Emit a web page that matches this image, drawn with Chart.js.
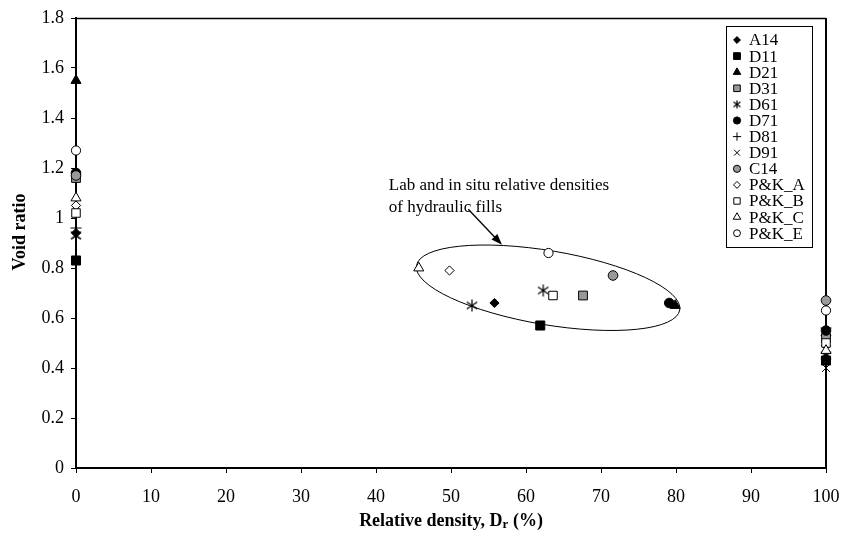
<!DOCTYPE html>
<html>
<head>
<meta charset="utf-8">
<script src="https://cdn.jsdelivr.net/npm/chart.js@4.4.1/dist/chart.umd.min.js"></script>
<style>
  html, body { margin: 0; padding: 0; background: #fff; }
  #wrap { width: 844px; height: 534px; }
</style>
</head>
<body>
<div id="wrap"><canvas id="voidChart" width="844" height="534"></canvas></div>
<script>
// series and values
const seriesNames = ['A14', 'D11', 'D21', 'D31', 'D61', 'D71', 'D81', 'D91', 'C14', 'P&K_A', 'P&K_B', 'P&K_C', 'P&K_E'];
const eMaxAtDr0 = [0.94, 0.83, 1.55, 1.16, 0.93, 1.18, 0.96, 0.93, 1.17, 1.05, 1.02, 1.08, 1.27];
const eMinAtDr100 = [0.44, 0.43, 0.54, 0.52, 0.45, 0.55, 0.56, 0.40, 0.67, 0.49, 0.50, 0.47, 0.63];
const inSituDr = [[55.8], [61.9], [79.9], [67.6], [52.8, 62.3], [79.1], [], [], [71.6], [49.8], [63.6], [45.7], [63.0]];
const inSituE = [[0.66], [0.57], [0.65], [0.69], [0.65, 0.71], [0.66], [], [], [0.77], [0.79], [0.69], [0.80], [0.86]];
const xTicks = [0, 10, 20, 30, 40, 50, 60, 70, 80, 90, 100];
const yTicks = [0, 0.2, 0.4, 0.6, 0.8, 1, 1.2, 1.4, 1.6, 1.8];

// annotation (data units)
const noteLines = ['Lab and in situ relative densities', 'of hydraulic fills'];
const noteAt = { x: 41.7, y: 1.128 };
const arrowFrom = { x: 52.3, y: 1.035 };
const arrowTo = { x: 56.8, y: 0.893 };
const ellipseEnds = [{ x: 45.4, y: 0.81 }, { x: 80.5, y: 0.632 }];

const SERIF = '"Liberation Serif", "Times New Roman", serif';

function makeAsterisk(size) {
    const c = document.createElement('canvas');
    c.width = size; c.height = size;
    const g = c.getContext('2d');
    const m = size / 2, r = size / 2 - 1;
    g.strokeStyle = '#000';
    g.lineWidth = 1.2;
    g.beginPath();
    g.moveTo(m, m - r); g.lineTo(m, m + r);
    g.moveTo(m - r * 0.87, m - r * 0.6); g.lineTo(m + r * 0.87, m + r * 0.6);
    g.moveTo(m - r * 0.87, m + r * 0.6); g.lineTo(m + r * 0.87, m - r * 0.6);
    g.stroke();
    return c;
}

const styles = [
    { pointStyle: 'rectRot', fill: '#000', radius: 4.6 },
    { pointStyle: 'rect', fill: '#000', radius: 6.4 },
    { pointStyle: 'triangle', fill: '#000', radius: 5.8 },
    { pointStyle: 'rect', fill: '#999', radius: 6.2 },
    { pointStyle: makeAsterisk(14), legendStyle: makeAsterisk(10), fill: '#000', radius: 6 },
    { pointStyle: 'circle', fill: '#000', radius: 4.8 },
    { pointStyle: 'cross', fill: '#000', radius: 5.5 },
    { pointStyle: 'crossRot', fill: '#000', radius: 5.5 },
    { pointStyle: 'circle', fill: '#999', radius: 4.8 },
    { pointStyle: 'rectRot', fill: '#fff', radius: 4.6 },
    { pointStyle: 'rect', fill: '#fff', radius: 6 },
    { pointStyle: 'triangle', fill: '#fff', radius: 5.8 },
    { pointStyle: 'circle', fill: '#fff', radius: 4.6 }
];

const datasets = seriesNames.map((name, i) => {
    const pts = [{ x: 0, y: eMaxAtDr0[i] }];
    inSituDr[i].forEach((dr, k) => pts.push({ x: dr, y: inSituE[i][k] }));
    pts.push({ x: 100, y: eMinAtDr100[i] });
    return {
        label: name,
        data: pts,
        pointStyle: styles[i].pointStyle,
        pointRadius: styles[i].radius,
        pointHoverRadius: styles[i].radius,
        backgroundColor: styles[i].fill,
        borderColor: '#000',
        borderWidth: 1,
        showLine: false,
        clip: false,
        order: -i
    };
});

// frame, ellipse, arrow, note, axis titles and legend
const decorations = {
    id: 'decorations',
    beforeDatasetsDraw(chart) {
        const { ctx, chartArea: a, scales: { x, y } } = chart;
        ctx.save();
        ctx.strokeStyle = '#000';
        // top and right frame
        ctx.lineWidth = 1.5;
        ctx.beginPath();
        ctx.moveTo(a.left, a.top + 0.5);
        ctx.lineTo(a.right, a.top + 0.5);
        ctx.stroke();
        ctx.lineWidth = 2;
        ctx.beginPath();
        ctx.moveTo(a.right, a.top);
        ctx.lineTo(a.right, a.bottom);
        ctx.stroke();

        // ellipse round the in situ points
        const p1 = { x: x.getPixelForValue(ellipseEnds[0].x), y: y.getPixelForValue(ellipseEnds[0].y) };
        const p2 = { x: x.getPixelForValue(ellipseEnds[1].x), y: y.getPixelForValue(ellipseEnds[1].y) };
        const cx = (p1.x + p2.x) / 2, cy = (p1.y + p2.y) / 2;
        const semiMajor = Math.hypot(p2.x - p1.x, p2.y - p1.y) / 2;
        const rot = Math.atan2(p2.y - p1.y, p2.x - p1.x);
        ctx.lineWidth = 1;
        ctx.beginPath();
        ctx.ellipse(cx, cy, semiMajor, 37, rot, 0, Math.PI * 2);
        ctx.stroke();

        // arrow
        const ax0 = x.getPixelForValue(arrowFrom.x), ay0 = y.getPixelForValue(arrowFrom.y);
        const ax1 = x.getPixelForValue(arrowTo.x), ay1 = y.getPixelForValue(arrowTo.y);
        const ang = Math.atan2(ay1 - ay0, ax1 - ax0);
        ctx.lineWidth = 1.3;
        ctx.beginPath();
        ctx.moveTo(ax0, ay0);
        ctx.lineTo(ax1 - 8 * Math.cos(ang), ay1 - 8 * Math.sin(ang));
        ctx.stroke();
        ctx.fillStyle = '#000';
        ctx.beginPath();
        ctx.moveTo(ax1, ay1);
        ctx.lineTo(ax1 - 11 * Math.cos(ang) + 4 * Math.sin(ang), ay1 - 11 * Math.sin(ang) - 4 * Math.cos(ang));
        ctx.lineTo(ax1 - 11 * Math.cos(ang) - 4 * Math.sin(ang), ay1 - 11 * Math.sin(ang) + 4 * Math.cos(ang));
        ctx.closePath();
        ctx.fill();

        // note text
        ctx.font = '17px ' + SERIF;
        ctx.textAlign = 'left';
        ctx.textBaseline = 'middle';
        const nx = x.getPixelForValue(noteAt.x), ny = y.getPixelForValue(noteAt.y);
        noteLines.forEach((t, i) => ctx.fillText(t, nx, ny + i * 22));
        ctx.restore();
    },
    afterDraw(chart) {
        const { ctx, chartArea: a } = chart;
        ctx.save();
        ctx.fillStyle = '#000';

        // y axis title
        ctx.save();
        ctx.translate(20, 232);
        ctx.rotate(-Math.PI / 2);
        ctx.font = 'bold 18px ' + SERIF;
        ctx.textAlign = 'center';
        ctx.textBaseline = 'middle';
        ctx.fillText('Void ratio', 0, 0);
        ctx.restore();

        // x axis title with subscript r
        const parts = [
            { t: 'Relative density, D', f: 'bold 18px ' + SERIF, dy: 0 },
            { t: 'r', f: 'bold 13px ' + SERIF, dy: 4 },
            { t: ' (%)', f: 'bold 18px ' + SERIF, dy: 0 }
        ];
        let total = 0;
        parts.forEach(p => { ctx.font = p.f; p.w = ctx.measureText(p.t).width; total += p.w; });
        let px = (a.left + a.right) / 2 - total / 2;
        const py = 521;
        ctx.textBaseline = 'middle';
        ctx.textAlign = 'left';
        parts.forEach(p => { ctx.font = p.f; ctx.fillText(p.t, px, py + p.dy); px += p.w; });

        // legend box
        const lx = 726, ly = 26, lw = 86, lh = 221;
        ctx.fillStyle = '#fff';
        ctx.fillRect(lx, ly, lw, lh);
        ctx.strokeStyle = '#000';
        ctx.lineWidth = 1;
        ctx.strokeRect(lx + 0.5, ly + 0.5, lw, lh);
        ctx.font = '17px ' + SERIF;
        chart.data.datasets.forEach((ds, i) => {
            const rowY = 40 + i * 16.1;
            const st = styles[i];
            ctx.fillStyle = st.fill;
            ctx.strokeStyle = '#000';
            ctx.lineWidth = 1;
            Chart.helpers.drawPoint(ctx, {
                pointStyle: st.legendStyle || st.pointStyle,
                radius: st.radius * 0.75,
                rotation: 0,
                borderWidth: 1
            }, 737, rowY);
            ctx.fillStyle = '#000';
            ctx.fillText(ds.label, 749, rowY + 1);
        });
        ctx.restore();
    }
};

new Chart(document.getElementById('voidChart'), {
    type: 'scatter',
    data: { datasets },
    options: {
        responsive: false,
        animation: false,
        events: [],
        layout: { padding: { left: 6, right: 18, top: 18, bottom: 0 } },
        plugins: {
            legend: { display: false },
            tooltip: { enabled: false }
        },
        scales: {
            x: {
                type: 'linear',
                min: 0,
                max: 100,
                afterBuildTicks: s => { s.ticks = xTicks.map(v => ({ value: v })); },
                afterFit: s => { s.height = 66; s.paddingLeft = 0; s.paddingRight = 0; },
                grid: { drawOnChartArea: false, drawTicks: true, tickLength: 5, tickColor: '#000', tickWidth: 1 },
                border: { color: '#000', width: 2 },
                ticks: { color: '#000', font: { family: SERIF, size: 18 }, padding: 13, maxRotation: 0 }
            },
            y: {
                type: 'linear',
                min: 0,
                max: 1.8,
                afterBuildTicks: s => { s.ticks = yTicks.map(v => ({ value: v })); },
                afterFit: s => { s.width = 70; s.paddingTop = 0; s.paddingBottom = 0; },
                grid: { drawOnChartArea: false, drawTicks: true, tickLength: 5, tickColor: '#000', tickWidth: 1 },
                border: { color: '#000', width: 2 },
                ticks: {
                    color: '#000',
                    font: { family: SERIF, size: 18 },
                    padding: 7,
                    callback: v => String(+v.toFixed(1))
                }
            }
        }
    },
    plugins: [decorations]
});
</script>
</body>
</html>
